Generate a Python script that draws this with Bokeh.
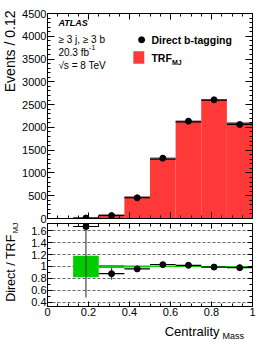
import math
from bokeh.plotting import figure
from bokeh.models import (Range1d, LinearAxis, SingleIntervalTicker, FixedTicker, Label,
                          CustomJSTickFormatter)
from bokeh.layouts import column, row
from bokeh.embed import file_html
from bokeh.resources import INLINE

# ---------------- data ----------------
bin_edges = [0.0, 0.125, 0.25, 0.375, 0.5, 0.625, 0.75, 0.875, 1.0]
trf_mj = [0, 6, 72, 468, 1300, 2118, 2595, 2095]
direct = [None, 10, 64, 454, 1324, 2136, 2605, 2063]
ratio = [None, 1.67, 0.88, 0.96, 1.03, 1.02, 0.99, 0.98]
ratio_lo = [None, 0.48, 0.78, 0.94, 1.02, 1.01, 0.98, 0.97]
ratio_hi = [None, 2.90, 0.98, 0.98, 1.04, 1.03, 1.00, 0.99]
band_half = [None, 0.18, 0.027, 0.015, 0.008, 0.007, 0.006, 0.006]
ratio_ticks = [0.4, 0.6, 0.8, 1.0, 1.2, 1.4, 1.6]
ratio_tick_labels = ["0.4", "0.6", "0.8", "1", "1.2", "1.4", "1.6"]
x_ticks = [0, 0.2, 0.4, 0.6, 0.8, 1.0]
x_tick_labels = ["0", "0.2", "0.4", "0.6", "0.8", "1"]

FONT = "Liberation Sans"
RED = "#ff3838"
GREEN = "#00cc00"
TOTAL_H = 342

lefts = bin_edges[:-1]
rights = bin_edges[1:]
centers = [(a + b) / 2 for a, b in zip(lefts, rights)]


def style_axis(ax, labels=True, tin=7, tmin=3):
    ax.major_tick_in = tin
    ax.major_tick_out = 0
    ax.minor_tick_in = tmin
    ax.minor_tick_out = 0
    ax.axis_line_color = "black"
    ax.major_tick_line_color = "black"
    ax.minor_tick_line_color = "black"
    ax.major_label_text_font = FONT
    ax.major_label_text_color = "black"
    if labels:
        ax.major_label_text_font_size = "11px"
        ax.major_label_standoff = 1
    else:
        ax.formatter = CustomJSTickFormatter(code="return ''")
        ax.major_label_text_font_size = "1px"
        ax.major_label_standoff = 0


def bare(fig):
    fig.axis.visible = False
    fig.grid.visible = False
    fig.outline_line_color = None
    fig.min_border = 0


# ---------------- top panel ----------------
p1 = figure(width=243, height=223, x_range=Range1d(0, 1), y_range=Range1d(0, 4500),
            output_backend="svg", toolbar_location=None,
            min_border_left=26, min_border_right=10, min_border_top=13, min_border_bottom=5)
p1.outline_line_color = "black"
p1.outline_line_alpha = 1
p1.grid.visible = False

p1.yaxis.ticker = SingleIntervalTicker(interval=500, num_minor_ticks=5)
p1.xaxis.ticker = SingleIntervalTicker(interval=0.2, num_minor_ticks=4)
style_axis(p1.yaxis[0])
style_axis(p1.xaxis[0], labels=False, tin=6)
ax_r = LinearAxis(ticker=SingleIntervalTicker(interval=500, num_minor_ticks=5))
style_axis(ax_r, labels=False)
p1.add_layout(ax_r, "right")
ax_t = LinearAxis(ticker=SingleIntervalTicker(interval=0.2, num_minor_ticks=4))
style_axis(ax_t, labels=False, tin=6)
p1.add_layout(ax_t, "above")

p1.quad(left=lefts, right=rights, bottom=[0] * 8, top=trf_mj, fill_color=RED, line_color=None)
p1.segment(x0=lefts[1:], x1=rights[1:], y0=trf_mj[1:], y1=trf_mj[1:], line_color="#5a1010", line_width=1.3)

idx = [i for i, v in enumerate(direct) if v is not None]
p1.segment(x0=[lefts[i] for i in idx], x1=[rights[i] for i in idx],
           y0=[direct[i] for i in idx], y1=[direct[i] for i in idx], line_color="black", line_width=1)
p1.scatter([centers[i] for i in idx], [direct[i] for i in idx], size=6, color="black")

# legend
p1.scatter([0.459], [3923], size=6, color="black")
p1.quad(left=[0.4188], right=[0.472], bottom=[3396], top=[3672], fill_color=RED, line_color=None)
p1.add_layout(Label(x=0.507, y=3923, text="Direct b-tagging", text_font=FONT, text_font_style="bold",
                    text_font_size="10.5px", text_baseline="middle", text_color="black"))
p1.add_layout(Label(x=0.507, y=3519, text="TRF", text_font=FONT, text_font_style="bold",
                    text_font_size="10.5px", text_baseline="middle", text_color="black"))
p1.add_layout(Label(x=0.607, y=3435, text="MJ", text_font=FONT, text_font_style="bold",
                    text_font_size="7px", text_baseline="middle", text_color="black"))

# ATLAS texts
p1.add_layout(Label(x=0.0531, y=4287, text="ATLAS", text_font=FONT, text_font_style="bold italic",
                    text_font_size="9px", text_baseline="middle", text_color="black"))
p1.add_layout(Label(x=0.0531, y=3923, text="≥ 3 j, ≥ 3 b", text_font=FONT,
                    text_font_size="10px", text_baseline="middle", text_color="black"))
p1.add_layout(Label(x=0.0531, y=3650, text="20.3 fb", text_font=FONT,
                    text_font_size="10px", text_baseline="middle", text_color="black"))
p1.add_layout(Label(x=0.203, y=3743, text="-1", text_font=FONT,
                    text_font_size="7px", text_baseline="middle", text_color="black"))
p1.add_layout(Label(x=0.0531, y=3358, text="√s = 8 TeV", text_font=FONT,
                    text_font_size="10px", text_baseline="middle", text_color="black"))

# ---------------- ratio panel ----------------
p2 = figure(width=243, height=97, x_range=p1.x_range, y_range=Range1d(0.33, 1.72),
            output_backend="svg", toolbar_location=None,
            min_border_left=26, min_border_right=10, min_border_top=0, min_border_bottom=14)
p2.outline_line_color = "black"
p2.outline_line_alpha = 1
p2.xgrid.visible = False

minor_r = [round(0.4 + 0.1 * k, 2) for k in range(13)]
minor_x = [round(0.05 * k, 2) for k in range(21)]
p2.yaxis.ticker = FixedTicker(ticks=ratio_ticks, minor_ticks=minor_r)
p2.yaxis.major_label_overrides = dict(zip(ratio_ticks, ratio_tick_labels))
p2.xaxis.ticker = FixedTicker(ticks=x_ticks, minor_ticks=minor_x)
p2.xaxis.major_label_overrides = dict(zip(x_ticks, x_tick_labels))
style_axis(p2.yaxis[0], tin=5, tmin=3)
style_axis(p2.xaxis[0], tin=5, tmin=3)
ax_r2 = LinearAxis(ticker=FixedTicker(ticks=ratio_ticks, minor_ticks=minor_r))
style_axis(ax_r2, labels=False, tin=5, tmin=3)
p2.add_layout(ax_r2, "right")
ax_t2 = LinearAxis(ticker=FixedTicker(ticks=x_ticks, minor_ticks=minor_x))
style_axis(ax_t2, labels=False, tin=5, tmin=3)
p2.add_layout(ax_t2, "above")

p2.ygrid.grid_line_color = "#666666"
p2.ygrid.grid_line_dash = "3 2"
p2.ygrid.grid_line_width = 1

ridx = [i for i, v in enumerate(ratio) if v is not None]
p2.quad(left=[lefts[i] for i in ridx], right=[rights[i] for i in ridx],
        bottom=[1 - band_half[i] for i in ridx], top=[1 + band_half[i] for i in ridx],
        fill_color=GREEN, line_color=None)
p2.segment(x0=[lefts[i] for i in ridx], x1=[rights[i] for i in ridx],
           y0=[1.0] * len(ridx), y1=[1.0] * len(ridx), line_color=GREEN, line_width=1)
p2.segment(x0=[centers[i] for i in ridx], x1=[centers[i] for i in ridx],
           y0=[ratio_lo[i] for i in ridx], y1=[ratio_hi[i] for i in ridx], line_color="#444444", line_width=1.2)
p2.segment(x0=[lefts[i] for i in ridx], x1=[rights[i] for i in ridx],
           y0=[ratio[i] for i in ridx], y1=[ratio[i] for i in ridx], line_color="black", line_width=1.2)
p2.scatter([centers[i] for i in ridx], [ratio[i] for i in ridx], size=6, color="black")

# ---------------- axis-title strips (page-pixel coordinates) ----------------
tfig = figure(width=19, height=TOTAL_H, x_range=Range1d(0, 19), y_range=Range1d(0, TOTAL_H),
              output_backend="svg", toolbar_location=None)
bare(tfig)
tfig.add_layout(Label(x=9.5, y=TOTAL_H - 10, text="Events / 0.12", text_font=FONT, text_font_size="14px",
                      angle=math.pi / 2, text_align="right", text_baseline="middle", text_color="black"))
tfig.add_layout(Label(x=10, y=TOTAL_H - 234, text="Direct / TRF", text_font=FONT, text_font_size="12.5px",
                      angle=math.pi / 2, text_align="right", text_baseline="middle", text_color="black"))
tfig.add_layout(Label(x=14.5, y=TOTAL_H - 233, text="MJ", text_font=FONT, text_font_size="8px",
                      angle=math.pi / 2, text_align="left", text_baseline="middle", text_color="black"))

xfig = figure(width=243, height=22, x_range=Range1d(19, 262), y_range=Range1d(TOTAL_H - 342, TOTAL_H - 320),
              output_backend="svg", toolbar_location=None)
bare(xfig)
xfig.add_layout(Label(x=223, y=TOTAL_H - 331, text="Centrality", text_font=FONT, text_font_size="13px",
                      text_align="right", text_baseline="alphabetic", text_color="black"))
xfig.add_layout(Label(x=226.5, y=TOTAL_H - 335, text="Mass", text_font=FONT, text_font_size="9px",
                      text_align="left", text_baseline="alphabetic", text_color="black"))

layout = row(tfig, column(p1, p2, xfig, spacing=0), spacing=0)
open("out.html", "w").write(file_html(layout, INLINE))
